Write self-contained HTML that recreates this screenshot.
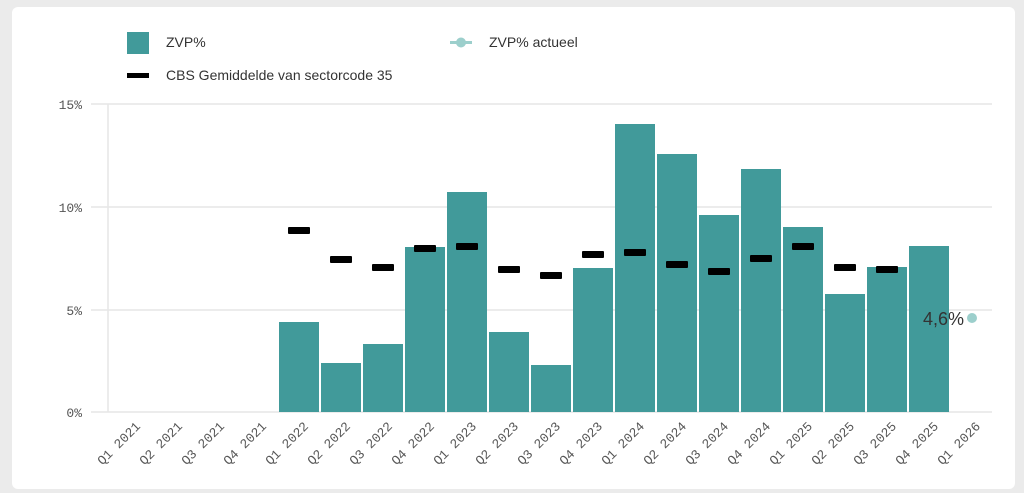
<!DOCTYPE html>
<html><head><meta charset="utf-8"><style>
html,body{margin:0;padding:0;background:#ebebeb;}
svg{display:block}
</style></head><body>
<svg width="1024" height="493" xmlns="http://www.w3.org/2000/svg">
<rect x="0" y="0" width="1024" height="493" fill="#ebebeb"/>
<rect x="12" y="7" width="1003" height="482" rx="6" fill="#fff"/>
<!-- legend -->
<rect x="127" y="32" width="22" height="22" fill="#419a9a"/>
<text x="166" y="47" font-family="Liberation Sans, sans-serif" font-size="14" fill="#333">ZVP%</text>
<rect x="127" y="73" width="22" height="5" fill="#000"/>
<text x="166" y="80" font-family="Liberation Sans, sans-serif" font-size="14" fill="#333">CBS Gemiddelde van sectorcode 35</text>
<rect x="450" y="41" width="22" height="3" fill="#9ccfcc"/>
<circle cx="461" cy="42.5" r="5" fill="#9ccfcc"/>
<text x="489" y="47" font-family="Liberation Sans, sans-serif" font-size="14" fill="#333">ZVP% actueel</text>
<!-- grid -->
<g stroke="#e6e6e6" stroke-width="1.5">
<line x1="91" y1="104" x2="992" y2="104"/>
<line x1="91" y1="207" x2="992" y2="207"/>
<line x1="91" y1="310" x2="992" y2="310"/>
<line x1="91" y1="412" x2="992" y2="412"/>
<line x1="108" y1="104" x2="108" y2="412"/>
</g>
<g font-family="Liberation Mono, monospace" font-size="13" fill="#555" text-anchor="end">
<text x="82" y="109">15%</text><text x="82" y="212">10%</text><text x="82" y="315">5%</text><text x="82" y="417">0%</text>
</g>
<!-- bars -->
<g fill="#419a9a">
<rect x="279" y="322" width="40" height="90"/>
<rect x="321" y="363" width="40" height="49"/>
<rect x="363" y="344" width="40" height="68"/>
<rect x="405" y="247" width="40" height="165"/>
<rect x="447" y="192" width="40" height="220"/>
<rect x="489" y="332" width="40" height="80"/>
<rect x="531" y="365" width="40" height="47"/>
<rect x="573" y="268" width="40" height="144"/>
<rect x="615" y="124" width="40" height="288"/>
<rect x="657" y="154" width="40" height="258"/>
<rect x="699" y="215" width="40" height="197"/>
<rect x="741" y="169" width="40" height="243"/>
<rect x="783" y="227" width="40" height="185"/>
<rect x="825" y="294" width="40" height="118"/>
<rect x="867" y="267" width="40" height="145"/>
<rect x="909" y="246" width="40" height="166"/>
</g>
<!-- dashes -->
<g fill="#000">
<rect x="288" y="227" width="22" height="7" rx="1"/>
<rect x="330" y="256" width="22" height="7" rx="1"/>
<rect x="372" y="264" width="22" height="7" rx="1"/>
<rect x="414" y="245" width="22" height="7" rx="1"/>
<rect x="456" y="243" width="22" height="7" rx="1"/>
<rect x="498" y="266" width="22" height="7" rx="1"/>
<rect x="540" y="272" width="22" height="7" rx="1"/>
<rect x="582" y="251" width="22" height="7" rx="1"/>
<rect x="624" y="249" width="22" height="7" rx="1"/>
<rect x="666" y="261" width="22" height="7" rx="1"/>
<rect x="708" y="268" width="22" height="7" rx="1"/>
<rect x="750" y="255" width="22" height="7" rx="1"/>
<rect x="792" y="243" width="22" height="7" rx="1"/>
<rect x="834" y="264" width="22" height="7" rx="1"/>
<rect x="876" y="266" width="22" height="7" rx="1"/>
</g>
<circle cx="972" cy="318" r="5" fill="#9ccfcc"/>
<text x="964" y="325" font-family="Liberation Sans, sans-serif" font-size="18" fill="#333" text-anchor="end">4,6%</text>
<!-- x labels -->
<g font-family="Liberation Mono, monospace" font-size="13" fill="#555" text-anchor="end">
<text transform="translate(141,427) rotate(-45)">Q1 2021</text>
<text transform="translate(183,427) rotate(-45)">Q2 2021</text>
<text transform="translate(225,427) rotate(-45)">Q3 2021</text>
<text transform="translate(267,427) rotate(-45)">Q4 2021</text>
<text transform="translate(309,427) rotate(-45)">Q1 2022</text>
<text transform="translate(351,427) rotate(-45)">Q2 2022</text>
<text transform="translate(393,427) rotate(-45)">Q3 2022</text>
<text transform="translate(435,427) rotate(-45)">Q4 2022</text>
<text transform="translate(477,427) rotate(-45)">Q1 2023</text>
<text transform="translate(519,427) rotate(-45)">Q2 2023</text>
<text transform="translate(561,427) rotate(-45)">Q3 2023</text>
<text transform="translate(603,427) rotate(-45)">Q4 2023</text>
<text transform="translate(645,427) rotate(-45)">Q1 2024</text>
<text transform="translate(687,427) rotate(-45)">Q2 2024</text>
<text transform="translate(729,427) rotate(-45)">Q3 2024</text>
<text transform="translate(771,427) rotate(-45)">Q4 2024</text>
<text transform="translate(813,427) rotate(-45)">Q1 2025</text>
<text transform="translate(855,427) rotate(-45)">Q2 2025</text>
<text transform="translate(897,427) rotate(-45)">Q3 2025</text>
<text transform="translate(939,427) rotate(-45)">Q4 2025</text>
<text transform="translate(981,427) rotate(-45)">Q1 2026</text>
</g>
</svg>
</body></html>
